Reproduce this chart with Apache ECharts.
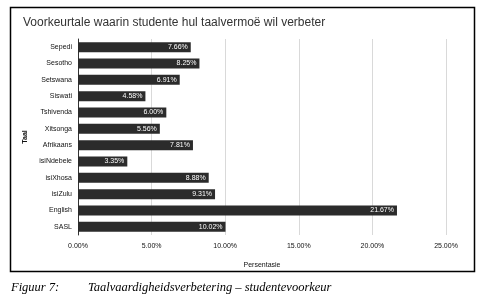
<!DOCTYPE html>
<html lang="af">
<head>
    <meta charset="UTF-8">
    <title>Voorkeurtale</title>
    <script src="https://cdn.jsdelivr.net/npm/echarts@6/dist/echarts.min.js"></script>
    <style>
        html, body { margin: 0; padding: 0; background: #fff; }
        #main { width: 485px; height: 298px; }
    </style>
</head>
<body>
<div id="main"></div>
<script>
    var languages = ['Sepedi', 'Sesotho', 'Setswana', 'Siswati', 'Tshivenda', 'Xitsonga', 'Afrikaans', 'isiNdebele', 'isiXhosa', 'isiZulu', 'English', 'SASL'];
    var percentages = [7.66, 8.25, 6.91, 4.58, 6.00, 5.56, 7.81, 3.35, 8.88, 9.31, 21.67, 10.02];

    var chart = echarts.init(document.getElementById('main'));
    var option = {
        animation: false,
        textStyle: { fontFamily: 'Liberation Sans, Arial, sans-serif' },
        title: {
            text: 'Voorkeurtale waarin studente hul taalvermoë wil verbeter',
            left: 18,
            top: 12,
            textStyle: { fontSize: 12, fontWeight: 'normal', color: '#333' }
        },
        grid: {
            left: 78,
            right: 39,
            top: 39,
            bottom: 63
        },
        xAxis: {
            type: 'value',
            min: 0,
            max: 25,
            interval: 5,
            name: 'Persentasie',
            nameLocation: 'middle',
            nameGap: 27,
            nameTextStyle: { fontSize: 7, color: '#111' },
            axisLine: { show: false },
            axisTick: { show: false },
            axisLabel: {
                fontSize: 7,
                color: '#111',
                margin: 8,
                formatter: function (v) { return v.toFixed(2) + '%'; }
            },
            splitLine: { lineStyle: { color: '#d9d9d9', width: 1 } }
        },
        yAxis: {
            type: 'category',
            inverse: true,
            data: languages,
            name: 'Taal',
            nameLocation: 'middle',
            nameGap: 48,
            nameRotate: 90,
            nameTextStyle: { fontSize: 7, color: '#111', fontWeight: 'bold' },
            axisLine: { show: true, lineStyle: { color: '#333', width: 1 } },
            axisTick: { show: false },
            axisLabel: { fontSize: 7, color: '#111', margin: 6 }
        },
        series: [{
            type: 'bar',
            data: percentages,
            barWidth: 10,
            itemStyle: { color: '#2b2b2b' },
            label: {
                show: true,
                position: 'insideRight',
                color: '#fff',
                fontSize: 7,
                distance: 3,
                formatter: function (p) { return p.value.toFixed(2) + '%'; }
            }
        }],
        graphic: [{
            type: 'rect',
            shape: { x: 10.5, y: 7.5, width: 464, height: 264 },
            style: { fill: 'none', stroke: '#000', lineWidth: 1.5 },
            silent: true
        }, {
            type: 'text',
            left: 11,
            top: 281,
            style: {
                text: 'Figuur 7:',
                font: 'italic 12.5px "Liberation Serif", serif',
                fill: '#000'
            }
        }, {
            type: 'text',
            left: 88,
            top: 281,
            style: {
                text: 'Taalvaardigheidsverbetering – studentevoorkeur',
                font: 'italic 12.5px "Liberation Serif", serif',
                fill: '#000'
            }
        }]
    };
    chart.setOption(option);
</script>
</body>
</html>
